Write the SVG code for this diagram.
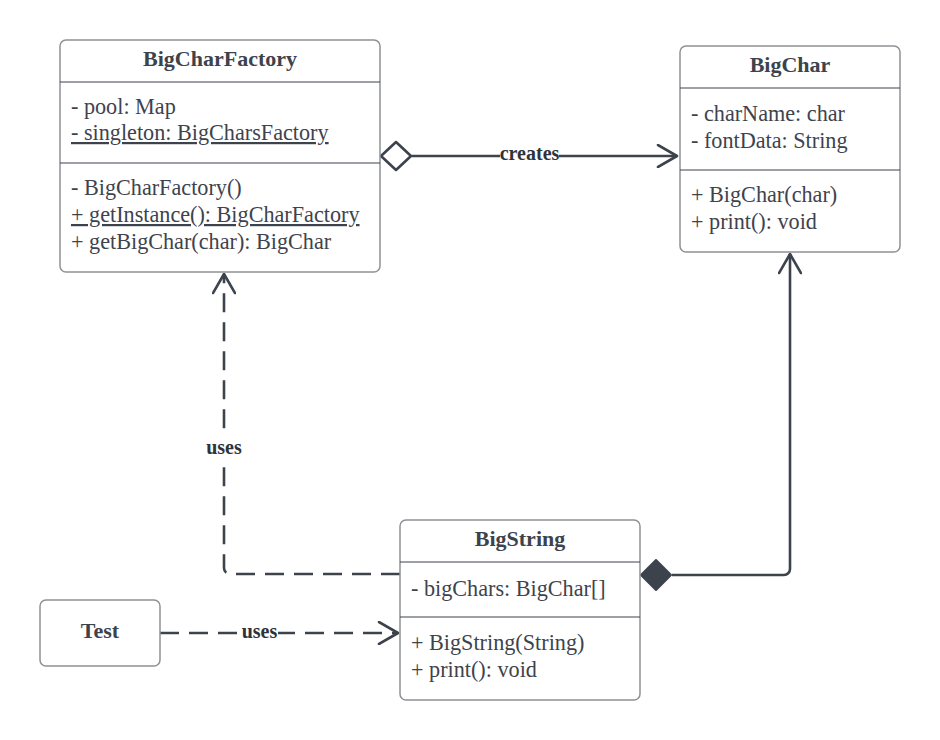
<svg xmlns="http://www.w3.org/2000/svg" width="940" height="740" viewBox="0 0 940 740">
<style>
.box{fill:#ffffff;stroke:#8e9196;stroke-width:1.5}
.div{stroke:#3d434d;stroke-width:1.2}
.title{font-family:"Liberation Serif",serif;font-weight:bold;font-size:22px;fill:#3d434d;text-anchor:middle}
.txt{font-family:"Liberation Serif",serif;font-size:22.2px;fill:#3d434d}
.u{text-decoration:underline}
.lbl{font-family:"Liberation Serif",serif;font-weight:bold;font-size:20px;fill:#2e333b;text-anchor:middle}
.conn{fill:none;stroke:#3d434d;stroke-width:2.6}
.dash{stroke-dasharray:19 10}
.bg{fill:#ffffff}
</style>
<defs>
<marker id="open" viewBox="0 0 24 24" markerWidth="24" markerHeight="24" refX="21" refY="12" orient="auto" markerUnits="userSpaceOnUse">
<path d="M2,1 L21,12 L2,23" fill="none" stroke="#3d434d" stroke-width="2.6" stroke-linecap="round" stroke-linejoin="round"/>
</marker>
</defs>
<g id="connectors">
<g id="creates">
<path class="conn" d="M412,156 L677,156" marker-end="url(#open)"/>
<path d="M381,156 L396,142 L411,156 L396,170 Z" fill="#ffffff" stroke="#3d434d" stroke-width="2.6" stroke-linejoin="round"/>
<rect class="bg" x="500" y="146" width="59" height="18"/>
<text class="lbl" x="529.5" y="160">creates</text>
</g>
<g id="uses-factory">
<path class="conn dash" d="M400,574 L230,574 A6,6 0 0 1 224,568 L224,274" marker-end="url(#open)"/>
<rect class="bg" x="204" y="438" width="40" height="22"/>
<text class="lbl" x="224" y="454">uses</text>
</g>
<g id="uses-bigstring">
<path class="conn dash" d="M160,633 L398,633" marker-end="url(#open)"/>
<rect class="bg" x="241" y="624" width="37" height="18"/>
<text class="lbl" x="259.5" y="638">uses</text>
</g>
<g id="composition">
<path class="conn" d="M672,575 L784,575 A6,6 0 0 0 790,569 L790,254" marker-end="url(#open)"/>
<path d="M641,575 L656,560 L671,575 L656,590 Z" fill="#3d434d" stroke="#3d434d" stroke-width="2" stroke-linejoin="round"/>
</g>
</g>
<g id="BigCharFactory">
<rect class="box" x="60" y="40" width="320" height="232" rx="6"/>
<line class="div" x1="60" y1="82" x2="380" y2="82"/>
<line class="div" x1="60" y1="163" x2="380" y2="163"/>
<text class="title" x="220" y="66">BigCharFactory</text>
<text class="txt" x="71" y="114">- pool: Map</text>
<text class="txt u" x="71" y="140">- singleton: BigCharsFactory</text>
<text class="txt" x="71" y="195">- BigCharFactory()</text>
<text class="txt u" x="71" y="222">+ getInstance(): BigCharFactory</text>
<text class="txt" x="71" y="249">+ getBigChar(char): BigChar</text>
</g>
<g id="BigChar">
<rect class="box" x="680" y="46" width="220" height="206" rx="6"/>
<line class="div" x1="680" y1="88" x2="900" y2="88"/>
<line class="div" x1="680" y1="170" x2="900" y2="170"/>
<text class="title" x="790" y="72">BigChar</text>
<text class="txt" x="691" y="121">- charName: char</text>
<text class="txt" x="691" y="148">- fontData: String</text>
<text class="txt" x="691" y="202">+ BigChar(char)</text>
<text class="txt" x="691" y="229">+ print(): void</text>
</g>
<g id="BigString">
<rect class="box" x="400" y="520" width="240" height="180" rx="6"/>
<line class="div" x1="400" y1="562" x2="640" y2="562"/>
<line class="div" x1="400" y1="617" x2="640" y2="617"/>
<text class="title" x="520" y="546">BigString</text>
<text class="txt" x="411" y="596">- bigChars: BigChar[]</text>
<text class="txt" x="411" y="650">+ BigString(String)</text>
<text class="txt" x="411" y="677">+ print(): void</text>
</g>
<g id="Test">
<rect class="box" x="40" y="600" width="120" height="66" rx="6"/>
<text class="title" x="100" y="638">Test</text>
</g>
</svg>
